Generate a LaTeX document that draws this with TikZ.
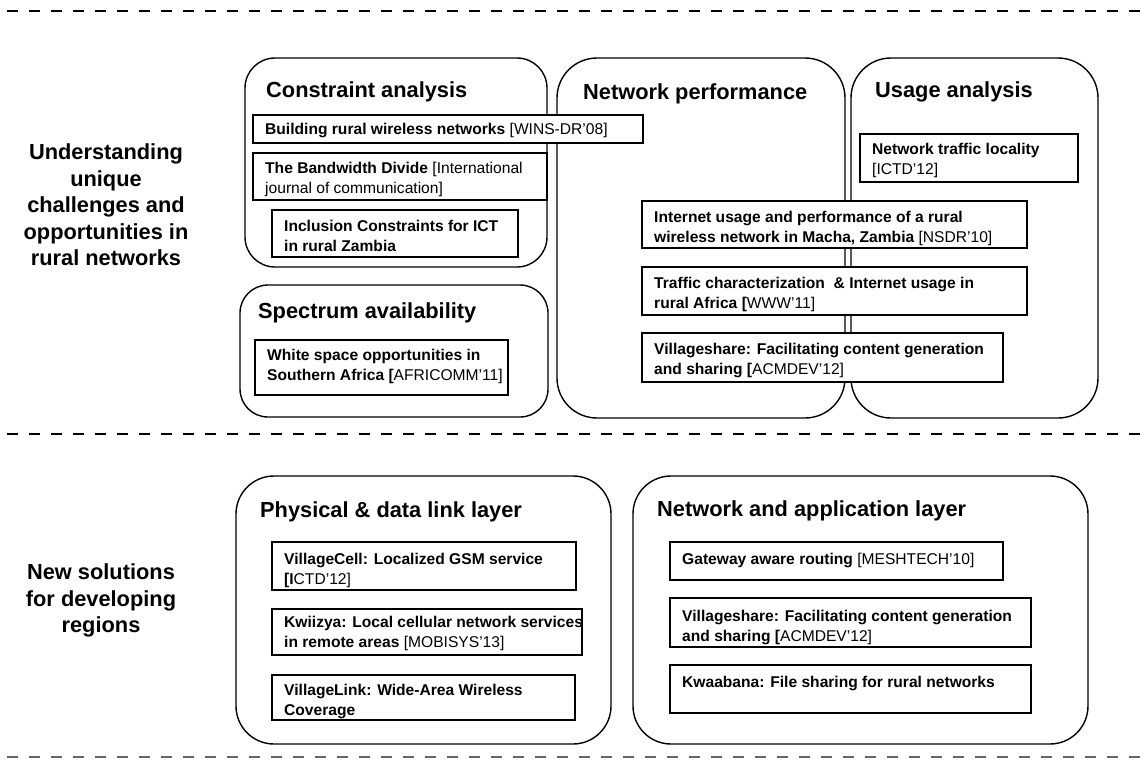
\documentclass[tikz,border=0pt]{standalone}
\usepackage{fontspec}
\setmainfont{Liberation Sans}
\newcommand\refx[1]{{\mdseries #1}}
\newcommand\ibox[7][10]{%
  \node[innerbox, minimum width=#5pt-#3pt, minimum height=#6pt-#4pt] (#2) at (#3,#4) {};
  \node[itext] (#2t) at ([xshift=12pt,yshift=-#1pt]#2.north west) {#7};}
\begin{document}
\begin{tikzpicture}[x=1pt,y=-1pt,
  rbox/.style={draw, line width=1.4pt},
  innerbox/.style={draw, line width=1.8pt, fill=white, inner sep=0pt, outer sep=0pt, anchor=north west},
  itext/.style={font=\fontsize{15.6}{20}\selectfont\bfseries, align=left, inner sep=0pt, anchor=north west},
  ttl/.style={font=\fontsize{21.8}{26}\selectfont\bfseries, anchor=base west, inner sep=0pt},
  lab/.style={font=\fontsize{21.8}{26.5}\selectfont\bfseries, align=center, inner sep=0pt, anchor=north},
  dashline/.style={line width=2.8pt, dash pattern=on 11pt off 11pt},
  dashthin/.style={line width=1.5pt, draw=black!60, dash pattern=on 11pt off 11pt}]
\useasboundingbox (0,0) rectangle (1144,769);

% dashed separators
\coordinate (d1a) at (7,11);   \coordinate (d1b) at (1144,11);
\coordinate (d2a) at (7,434);  \coordinate (d2b) at (1144,434);
\coordinate (d3a) at (7,757);  \coordinate (d3b) at (1144,757);
\draw[dashline] (d1a) -- (d1b);
\draw[dashline] (d2a) -- (d2b);
\draw[dashthin] (d3a) -- (d3b);

% left labels
\node[lab] (L1) at (106,143.5) {Understanding\\unique\\challenges and\\opportunities in\\rural networks};
\node[lab] (L2) at (101,563.5) {New solutions\\for developing\\regions};

% rounded containers
\draw[rbox, rounded corners=30pt] (245,58) rectangle (547,267);
\draw[rbox, rounded corners=40pt] (557,58) rectangle (845,418);
\draw[rbox, rounded corners=40pt] (851,58) rectangle (1098,418);
\draw[rbox, rounded corners=28pt] (240,285) rectangle (548,417);
\draw[rbox, rounded corners=38pt] (236,476) rectangle (611,744);
\draw[rbox, rounded corners=38pt] (633,476) rectangle (1088,744);

% titles
\node[ttl] (T1) at (266,97) {Constraint analysis};
\node[ttl] (T2) at (583,99) {Network performance};
\node[ttl] (T3) at (875,97) {Usage analysis};
\node[ttl] (T4) at (258,318) {Spectrum availability};
\node[ttl] (T5) at (260,517) {Physical \& data link layer};
\node[ttl] (T6) at (657,516) {Network and application layer};

% inner boxes
\ibox[8]{b1}{253}{115}{643}{143}{Building rural wireless networks \refx{[WINS-DR’08]}}
\ibox[9]{b2}{253}{153}{547}{200}{The Bandwidth Divide \refx{[International}\\\refx{journal of communication]}}
\ibox{b3}{272}{210}{518}{257}{Inclusion Constraints for ICT\\in rural Zambia}
\ibox[9]{b4}{860}{134}{1078}{182}{Network traffic locality\\\refx{[ICTD’12]}}
\ibox{b5}{642}{201}{1027}{248}{Internet usage and performance of a rural\\wireless network in Macha, Zambia \refx{[NSDR’10]}}
\ibox{b6}{642}{267}{1027}{315}{Traffic characterization\ \ \& Internet usage in\\rural Africa [\refx{WWW’11]}}
\ibox{b7}{642}{333}{1003}{382}{Villageshare: Facilitating content generation\\and sharing [\refx{ACMDEV’12]}}
\ibox[9]{b8}{255}{340}{508}{395}{White space opportunities in\\Southern Africa [\refx{AFRICOMM’11]}}
\ibox[11]{b9}{272}{542}{576}{590}{VillageCell: Localized GSM service\\{}[I\refx{CTD’12]}}
\ibox[7]{b10}{272}{609}{582}{655}{Kwiizya: Local cellular network services\\in remote areas \refx{[MOBISYS’13]}}
\ibox[9]{b11}{272}{675}{575}{720}{VillageLink: Wide-Area Wireless\\Coverage}
\ibox[11]{b12}{670}{542}{1003}{580}{Gateway aware routing \refx{[MESHTECH’10]}}
\ibox[12]{b13}{670}{598}{1031}{647}{Villageshare: Facilitating content generation\\and sharing [\refx{ACMDEV’12]}}
\ibox[11]{b14}{670}{665}{1031}{713}{Kwaabana: File sharing for rural networks}
\end{tikzpicture}
\end{document}
